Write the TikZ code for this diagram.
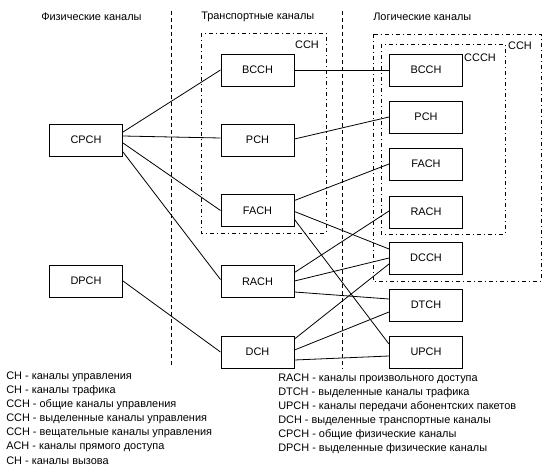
\documentclass[tikz,border=0pt]{standalone}
\usepackage{fontspec}
\setmainfont{Liberation Sans}
\usetikzlibrary{calc}
\begin{document}
\begin{tikzpicture}[x=0.75pt,y=-0.75pt,
 txt/.style={font=\fontsize{8.2}{9}\selectfont},
 chbox/.style={draw,line width=0.75pt,minimum width=54.75pt,minimum height=24pt,inner sep=0pt,txt},
 lbl/.style={inner sep=0pt,txt},
 link/.style={line width=0.6pt},
 sep/.style={line width=0.75pt,dash pattern=on 3pt off 2.25pt},
 grp/.style={line width=0.75pt,dash pattern=on 3pt off 2.25pt on 0.75pt off 2.25pt}]
\useasboundingbox (0,0) rectangle (550,471);
% column titles
\node[lbl,anchor=west] (t1) at (41,17) {Физические каналы};
\node[lbl,anchor=west] (t2) at (201,17) {Транспортные каналы};
\node[lbl,anchor=west] (t3) at (373,17) {Логические каналы};
% separators
\coordinate (s1a) at (171,11); \coordinate (s1b) at (171,366);
\coordinate (s2a) at (342,11); \coordinate (s2b) at (342,369);
\draw[sep] (s1a) -- (s1b);
\draw[sep] (s2a) -- (s2b);
% groups
\draw[grp] (201,33) rectangle (326,233);
\node[lbl] (gcch1) at (307,45) {CCH};
\draw[grp] (373,34) rectangle (541,281);
\node[lbl] (gcch2) at (520,46) {CCH};
\draw[grp] (381,44) rectangle (505,234);
\node[lbl] (gccch) at (480,58) {CCCH};
% physical
\node[chbox] (cpch) at (86,140) {CPCH};
\node[chbox] (dpch) at (86,281) {DPCH};
% transport
\node[chbox] (tbcch) at (257.5,70) {BCCH};
\node[chbox] (tpch) at (257.5,140) {PCH};
\node[chbox] (tfach) at (257.5,210.5) {FACH};
\node[chbox] (trach) at (257.5,281.5) {RACH};
\node[chbox] (tdch) at (257.5,352) {DCH};
% logical
\node[chbox] (lbcch) at (426,70) {BCCH};
\node[chbox] (lpch) at (426,117) {PCH};
\node[chbox] (lfach) at (426,164) {FACH};
\node[chbox] (lrach) at (426,212) {RACH};
\node[chbox] (ldcch) at (426,258) {DCCH};
\node[chbox] (ldtch) at (426,305) {DTCH};
\node[chbox] (lupch) at (426,352) {UPCH};
% physical -> transport
\draw[link] ($(cpch.east)+(0,-8)$) -- (tbcch.west);
\draw[link] ($(cpch.east)+(0,-4)$) -- ($(tpch.west)+(0,-2)$);
\draw[link] ($(cpch.east)+(0,3)$) -- (tfach.west);
\draw[link] ($(cpch.east)+(0,12)$) -- ($(trach.west)+(0,-2)$);
\draw[link] (dpch.east) -- (tdch.west);
% transport -> logical
\draw[link] (tbcch.east) -- (lbcch.west);
\draw[link] ($(tpch.east)+(0,-1)$) -- ($(lpch.west)+(0,0)$);
\draw[link] ($(tfach.east)+(0,-10)$) -- (lfach.west);
\draw[link] ($(tfach.east)+(0,1)$) -- ($(ldcch.west)+(0,-9)$);
\draw[link] ($(tfach.east)+(0,9)$) -- ($(lupch.west)+(0,-8)$);
\draw[link] ($(trach.east)+(0,-9)$) -- ($(lrach.west)+(0,-1)$);
\draw[link] ($(trach.east)+(0,-0.5)$) -- ($(ldcch.west)+(0,0)$);
\draw[link] ($(trach.east)+(0,10.5)$) -- ($(ldtch.west)+(0,-6)$);
\draw[link] ($(tdch.east)+(0,-13)$) -- ($(ldcch.west)+(0,6)$);
\draw[link] ($(tdch.east)+(0,-2)$) -- ($(ldtch.west)+(0,7)$);
\draw[link] ($(tdch.east)+(0,8)$) -- ($(lupch.west)+(0,4)$);
% legends
\node[lbl,anchor=west] (a1) at (6,377) {CH - каналы управления};
\node[lbl,anchor=west] (a2) at (6,391) {CH - каналы трафика};
\node[lbl,anchor=west] (a3) at (6,405) {CCH - общие каналы управления};
\node[lbl,anchor=west] (a4) at (6,419) {CCH - выделенные каналы управления};
\node[lbl,anchor=west] (a5) at (6,433) {CCH - вещательные каналы управления};
\node[lbl,anchor=west] (a6) at (6,447) {ACH - каналы прямого доступа};
\node[lbl,anchor=west] (a7) at (6,461) {CH - каналы вызова};
\node[lbl,anchor=west] (b1) at (278,379) {RACH - каналы произвольного доступа};
\node[lbl,anchor=west] (b2) at (278,393) {DTCH - выделенные каналы трафика};
\node[lbl,anchor=west] (b3) at (278,407) {UPCH - каналы передачи абонентских пакетов};
\node[lbl,anchor=west] (b4) at (278,421) {DCH - выделенные транспортные каналы};
\node[lbl,anchor=west] (b5) at (278,435) {CPCH - общие физические каналы};
\node[lbl,anchor=west] (b6) at (278,449) {DPCH - выделенные физические каналы};
\end{tikzpicture}
\end{document}
